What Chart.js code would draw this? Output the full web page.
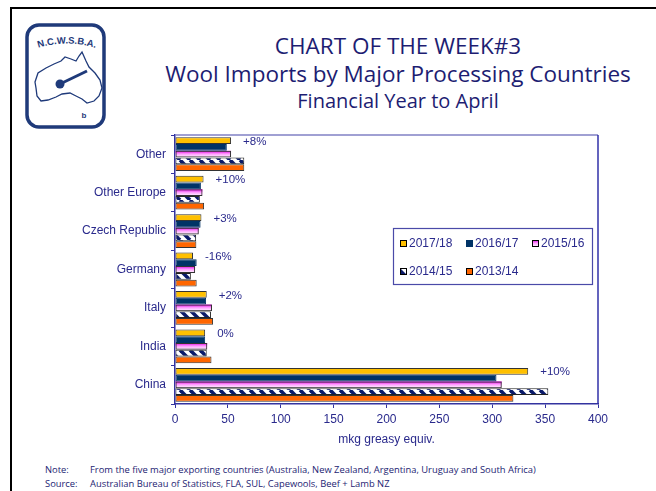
<!DOCTYPE html>
<html>
<head>
<meta charset="utf-8">
<script src="https://cdn.jsdelivr.net/npm/chart.js@4.4.1/dist/chart.umd.min.js"></script>
<style>
  html, body { margin: 0; padding: 0; background: #fff; }
  body { width: 656px; height: 491px; position: relative; overflow: hidden; }
  #frame { position: absolute; left: 10px; top: 7px; width: 700px; height: 600px;
           border-left: 2px solid #000; border-top: 2px solid #000; }
  #logo { position: absolute; left: 24px; top: 22px; }
  .ttl { position: absolute; left: 100px; width: 596px; text-align: center;
         font-family: 'Open Sans', sans-serif; color: #1d1d72; white-space: nowrap; line-height: 1; }
  #t1 { top: 35px; font-size: 22.5px; }
  #t2 { top: 63px; font-size: 22.5px; }
  #t3 { top: 91px; font-size: 20px; }
  .note { position: absolute; font-family: 'Open Sans', sans-serif; font-size: 9.4px;
          color: #1d1d72; white-space: nowrap; }
  canvas { position: absolute; left: 0; top: 0; }
</style>
</head>
<body>
<div id="frame"></div>
<svg id="logo" width="84" height="110" viewBox="24 22 84 110">
  <rect x="27" y="25" width="77" height="102" rx="12" ry="12" fill="#fff" stroke="#1f3a7a" stroke-width="3.5"/>
  <path id="arc" d="M35,49 Q66,38 99,49" fill="none"/>
  <text font-family="Liberation Sans, Arial, sans-serif" font-weight="bold" font-size="9.5" fill="#1f3a7a">
    <textPath href="#arc" startOffset="50%" text-anchor="middle">N.C.W.S.B.A.</textPath>
  </text>
  <path d="M35,82 L38,73 L46,68 L54,64 L61,61 L65,57 L71,59 L76,61 L79,56 L82,52 L86,61 L89,67 L95,73 L100,80 L102,88 L99,96 L94,101 L87,103 L82,99 L76,96 L70,93 L62,94 L56,97 L48,100 L41,101 L37,96 L36,88 Z" fill="#fff" stroke="#1f3a7a" stroke-width="1.3"/>
  <line x1="60" y1="84" x2="87" y2="71" stroke="#1f3a7a" stroke-width="3"/>
  <circle cx="60" cy="84" r="4.5" fill="#1f3a7a"/>
  <text x="84" y="118" text-anchor="middle" font-family="Liberation Sans, Arial, sans-serif" font-weight="bold" font-size="8" fill="#1f3a7a">b</text>
</svg>
<div class="ttl" id="t1">CHART OF THE WEEK#3</div>
<div class="ttl" id="t2">Wool Imports by Major Processing Countries</div>
<div class="ttl" id="t3">Financial Year to April</div>
<div class="note" style="left:45px; top:463px;">Note:</div>
<div class="note" style="left:90px; top:463px;">From the five major exporting countries (Australia, New Zealand, Argentina, Uruguay and South Africa)</div>
<div class="note" style="left:45px; top:477px;">Source:</div>
<div class="note" style="left:90px; top:477px;">Australian Bureau of Statistics, FLA, SUL, Capewools, Beef + Lamb NZ</div>
<canvas id="c" width="656" height="491"></canvas>
<script>
// ---- data ----
const categories = ['Other', 'Other Europe', 'Czech Republic', 'Germany', 'Italy', 'India', 'China'];
const seriesNames = ['2017/18', '2016/17', '2015/16', '2014/15', '2013/14'];
const fy1718 = [53, 27, 25, 17, 30, 28.5, 334];
const fy1617 = [49, 24.5, 24.2, 20.5, 29.4, 28.5, 304];
const fy1516 = [53, 26, 22.5, 19, 35, 30.5, 309];
const fy1415 = [65.5, 23.5, 20, 15, 34, 30, 353];
const fy1314 = [65.5, 27.5, 20.2, 20.5, 36, 34.5, 320];
const changeLabels = ['+8%', '+10%', '+3%', '-16%', '+2%', '0%', '+10%'];
const xMin = 0, xMax = 400, xStep = 50;
const axisTitle = 'mkg greasy equiv.';

// ---- styles ----
const NAVY_TXT = '#2a2a8c';
const AXIS = '#3333a0';
const FONT = 'Liberation Sans, Arial, sans-serif';

function hatchPattern() {
  const c = document.createElement('canvas');
  c.width = 10; c.height = 10;
  const g = c.getContext('2d');
  g.fillStyle = '#fff'; g.fillRect(0, 0, 10, 10);
  g.strokeStyle = '#0a1a6a'; g.lineWidth = 3.6;
  for (const off of [-10, 0, 10]) {
    g.beginPath(); g.moveTo(off, 0); g.lineTo(off + 10, 10); g.stroke();
  }
  return document.getElementById('c').getContext('2d').createPattern(c, 'repeat');
}
const hatch = hatchPattern();

const colors = ['#ffc000', '#003366', 'rgba(0,0,0,0)', hatch, '#ff6600'];
const borders = ['#333', '#003366', '#333', '#222', '#333'];
const seriesData = [fy1718, fy1617, fy1516, fy1415, fy1314];

const pinkGradientPlugin = {
  id: 'pinkGrad',
  beforeDatasetDraw(chart, args) {
    if (args.index !== 2) return;
    const ctx = chart.ctx;
    ctx.save();
    args.meta.data.forEach(el => {
      const p = el.getProps(['x', 'y', 'base', 'height'], true);
      const top = p.y - p.height / 2;
      const g = ctx.createLinearGradient(0, top, 0, top + p.height);
      g.addColorStop(0, '#e000e0');
      g.addColorStop(0.45, '#ff9cff');
      g.addColorStop(1, '#ffffff');
      ctx.fillStyle = g;
      ctx.fillRect(Math.min(p.base, p.x), top, Math.abs(p.x - p.base), p.height);
    });
    ctx.restore();
  }
};

const changePlugin = {
  id: 'changes',
  afterDatasetsDraw(chart) {
    const ctx = chart.ctx;
    const meta = chart.getDatasetMeta(0);
    ctx.save();
    ctx.font = '11.5px ' + FONT;
    ctx.fillStyle = NAVY_TXT;
    ctx.textAlign = 'left';
    ctx.textBaseline = 'middle';
    meta.data.forEach((el, i) => {
      ctx.fillText(changeLabels[i], el.x + 12, el.y + 1);
    });
    ctx.restore();
  }
};

function drawMarker(ctx, i, x, y, s) {
  ctx.save();
  if (i === 2) {
    const g = ctx.createLinearGradient(0, y, 0, y + s);
    g.addColorStop(0, '#e000e0'); g.addColorStop(0.45, '#ff9cff'); g.addColorStop(1, '#fff');
    ctx.fillStyle = g; ctx.fillRect(x, y, s, s);
  } else if (i === 3) {
    ctx.fillStyle = '#fff'; ctx.fillRect(x, y, s, s);
    ctx.fillStyle = '#0a1a6a';
    ctx.beginPath(); ctx.moveTo(x, y); ctx.lineTo(x + s, y + s); ctx.lineTo(x, y + s); ctx.closePath(); ctx.fill();
  } else {
    ctx.fillStyle = colors[i]; ctx.fillRect(x, y, s, s);
  }
  ctx.strokeStyle = i === 1 ? '#003366' : '#000';
  ctx.lineWidth = 1;
  ctx.strokeRect(x + 0.5, y + 0.5, s - 1, s - 1);
  ctx.restore();
}

const legendPlugin = {
  id: 'boxLegend',
  afterDraw(chart) {
    const ctx = chart.ctx;
    ctx.save();
    ctx.fillStyle = '#fff';
    ctx.fillRect(393, 228, 200, 57);
    ctx.strokeStyle = '#4a4aa8';
    ctx.lineWidth = 1.2;
    ctx.strokeRect(393.5, 228.5, 199, 56);
    const pos = [[400, 243], [466, 243], [532, 243], [400, 271], [466, 271]];
    ctx.font = '12px ' + FONT;
    ctx.textBaseline = 'middle';
    seriesNames.forEach((name, i) => {
      const [x, y] = pos[i];
      drawMarker(ctx, i, x, y - 3, 7);
      ctx.fillStyle = NAVY_TXT;
      ctx.fillText(name, x + 9, y + 1);
    });
    ctx.restore();
  }
};

const frameLinesPlugin = {
  id: 'frameLines',
  afterDraw(chart) {
    const a = chart.chartArea, ctx = chart.ctx;
    ctx.save();
    ctx.lineWidth = 1.5;
    ctx.strokeStyle = '#8080c4';
    ctx.beginPath(); ctx.moveTo(a.left, a.top); ctx.lineTo(a.right, a.top); ctx.stroke();
    ctx.strokeStyle = '#3030a8';
    ctx.beginPath(); ctx.moveTo(a.right, a.top); ctx.lineTo(a.right, a.bottom); ctx.stroke();
    ctx.restore();
  }
};

new Chart(document.getElementById('c'), {
  type: 'bar',
  data: {
    labels: categories,
    datasets: seriesNames.map((name, i) => ({
      label: name,
      data: seriesData[i],
      backgroundColor: colors[i],
      borderColor: borders[i],
      borderWidth: 1,
      borderSkipped: false,
      categoryPercentage: 0.88,
      barPercentage: 1.0
    }))
  },
  options: {
    indexAxis: 'y',
    responsive: false,
    animation: false,
    layout: { padding: { left: 0, right: 58, top: 135, bottom: 44 } },
    plugins: { legend: { display: false }, tooltip: { enabled: false } },
    scales: {
      x: {
        min: xMin, max: xMax,
        ticks: { stepSize: xStep, color: NAVY_TXT, font: { family: FONT, size: 12 }, padding: 4 },
        grid: { drawOnChartArea: false, drawTicks: true, tickLength: 4, color: AXIS },
        border: { color: AXIS, width: 1.5 },
        title: { display: true, text: axisTitle, color: NAVY_TXT, font: { family: FONT, size: 12 }, padding: 0 },
        afterFit(scale) { scale.height = 43; }
      },
      y: {
        ticks: { color: NAVY_TXT, font: { family: FONT, size: 12 }, padding: 5 },
        grid: { drawOnChartArea: false, drawTicks: true, tickLength: 4, color: AXIS, offset: true },
        border: { color: AXIS, width: 1.5 },
        afterFit(scale) { scale.width = 175; }
      }
    }
  },
  plugins: [pinkGradientPlugin, changePlugin, legendPlugin, frameLinesPlugin]
});
</script>
</body>
</html>
